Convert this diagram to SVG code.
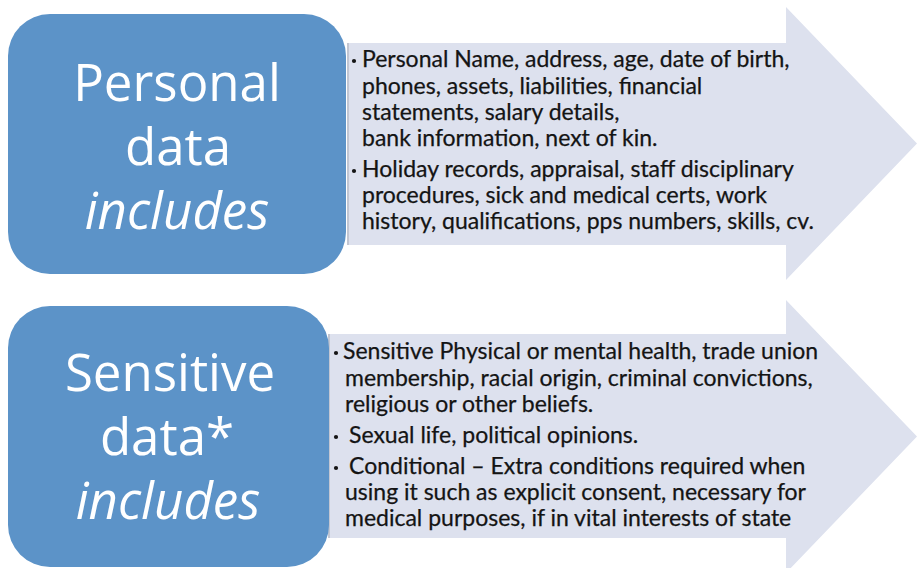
<svg xmlns="http://www.w3.org/2000/svg" width="917" height="568" viewBox="0 0 917 568">
  <style>
    .box { fill: #5c93c8; }
    .arrow { fill: #dde1ee; }
    .edge { stroke: #b9bdc8; stroke-width: 1.5; }
    .dot { fill: #141414; }
    .title { font-family: "Open Sans", "Noto Sans", sans-serif; font-size: 51px; fill: #ffffff; text-anchor: middle; }
    .title-i { font-style: italic; }
    .item { font-family: Lato, "Open Sans", sans-serif; font-size: 23px; fill: #141414; stroke: #141414; stroke-width: 0.25; }
  </style>
  <rect width="917" height="568" fill="#ffffff"/>

  <!-- personal data: arrow with bullet list -->
  <g id="personal-arrow">
    <polygon class="arrow" points="347,43 786,43 786,7 917,143.5 786,280 786,245 347,245"/>
    <line class="edge" x1="348" y1="43" x2="348" y2="245"/>
    <circle class="dot" cx="354" cy="61" r="2.1"/>
    <circle class="dot" cx="354" cy="171" r="2.1"/>
    <text class="item">
      <tspan x="362" y="67">Personal Name, address, age, date of birth,</tspan>
      <tspan x="362" y="94">phones, assets, liabilities, financial</tspan>
      <tspan x="362" y="120">statements, salary details,</tspan>
      <tspan x="362" y="146">bank information, next of kin.</tspan>
      <tspan x="362" y="177">Holiday records, appraisal, staff disciplinary</tspan>
      <tspan x="362" y="203">procedures, sick and medical certs, work</tspan>
      <tspan x="362" y="229">history, qualifications, pps numbers, skills, cv.</tspan>
    </text>
  </g>

  <g id="personal-box">
    <rect class="box" x="8" y="14" width="338" height="260" rx="42"/>
    <text class="title" x="177" y="101">Personal</text>
    <text class="title" x="178" y="165">data</text>
    <text class="title title-i" x="177" y="229">includes</text>
  </g>

  <!-- sensitive data: arrow with bullet list -->
  <g id="sensitive-arrow">
    <polygon class="arrow" points="328,334 786,334 786,300 917,436.5 786,573 786,538 328,538"/>
    <line class="edge" x1="329" y1="334" x2="329" y2="538"/>
    <circle class="dot" cx="336" cy="353" r="2.1"/>
    <circle class="dot" cx="336" cy="437" r="2.1"/>
    <circle class="dot" cx="336" cy="468" r="2.1"/>
    <text class="item">
      <tspan x="343" y="359">Sensitive Physical or mental health, trade union</tspan>
      <tspan x="345" y="386">membership, racial origin, criminal convictions,</tspan>
      <tspan x="345" y="412">religious or other beliefs.</tspan>
      <tspan x="349" y="443">Sexual life, political opinions.</tspan>
      <tspan x="349" y="474">Conditional – Extra conditions required when</tspan>
      <tspan x="345" y="500">using it such as explicit consent, necessary for</tspan>
      <tspan x="345" y="526">medical purposes, if in vital interests of state</tspan>
    </text>
  </g>

  <g id="sensitive-box">
    <rect class="box" x="8" y="306" width="321" height="261" rx="42"/>
    <text class="title" x="170" y="391">Sensitive</text>
    <text class="title" x="167" y="455">data*</text>
    <text class="title title-i" x="168" y="519">includes</text>
  </g>
</svg>
